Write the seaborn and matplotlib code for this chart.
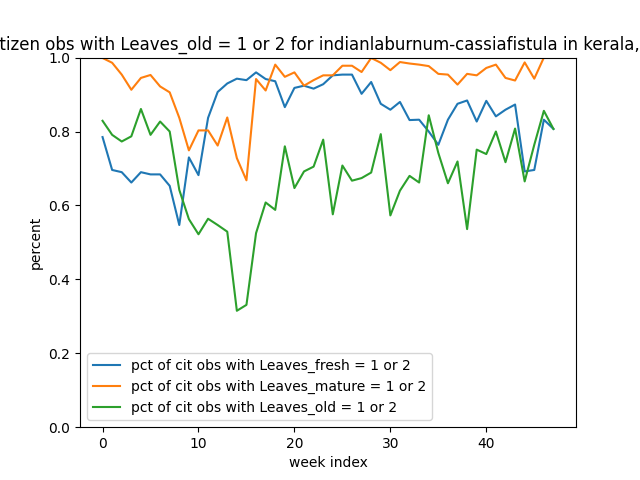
import numpy as np
import pandas as pd
import matplotlib
matplotlib.use("Agg")
import matplotlib.pyplot as plt
import seaborn as sns

week = list(range(48))
fresh = [0.785, 0.696, 0.690, 0.662, 0.690, 0.684, 0.684, 0.653, 0.547, 0.730,
         0.682, 0.837, 0.907, 0.930, 0.943, 0.939, 0.960, 0.942, 0.936, 0.866,
         0.918, 0.924, 0.916, 0.928, 0.952, 0.954, 0.954, 0.902, 0.934, 0.875,
         0.859, 0.880, 0.831, 0.832, 0.800, 0.764, 0.832, 0.875, 0.884, 0.827,
         0.883, 0.841, 0.859, 0.873, 0.692, 0.696, 0.832, 0.807]
mature = [0.999, 0.986, 0.954, 0.913, 0.945, 0.953, 0.922, 0.906, 0.837, 0.749,
          0.803, 0.803, 0.762, 0.838, 0.728, 0.668, 0.942, 0.911, 0.981, 0.948,
          0.960, 0.924, 0.939, 0.952, 0.952, 0.978, 0.978, 0.961, 0.999, 0.986,
          0.966, 0.988, 0.984, 0.981, 0.977, 0.956, 0.954, 0.927, 0.956, 0.952,
          0.972, 0.981, 0.945, 0.938, 0.987, 0.943, 1.000, np.nan]
old = [0.829, 0.791, 0.773, 0.787, 0.861, 0.791, 0.827, 0.800, 0.642, 0.563,
       0.522, 0.564, 0.547, 0.529, 0.315, 0.331, 0.525, 0.608, 0.588, 0.760,
       0.647, 0.692, 0.705, 0.778, 0.576, 0.708, 0.667, 0.674, 0.689, 0.793,
       0.573, 0.640, 0.680, 0.662, 0.844, 0.742, 0.660, 0.719, 0.536, 0.751,
       0.739, 0.800, 0.717, 0.808, 0.665, 0.764, 0.856, 0.807]

labels = ["pct of cit obs with Leaves_fresh = 1 or 2",
          "pct of cit obs with Leaves_mature = 1 or 2",
          "pct of cit obs with Leaves_old = 1 or 2"]
title = "pct of citizen obs with Leaves_old = 1 or 2 for indianlaburnum-cassiafistula in kerala, india (all)"

df = pd.DataFrame({"week": week, "fresh": fresh, "mature": mature, "old": old})

fig, ax = plt.subplots(figsize=(6.4, 4.8), dpi=100)
colors = sns.color_palette("tab10")
for col, lab, c in zip(["fresh", "mature", "old"], labels, colors):
    sns.lineplot(data=df, x="week", y=col, ax=ax, label=lab, color=c)

ax.set_ylim(0, 1)
ax.set_xlabel("week index")
ax.set_ylabel("percent")
ax.set_title(title)
ax.legend(loc="lower left")
fig.savefig("out.png", dpi=100)
